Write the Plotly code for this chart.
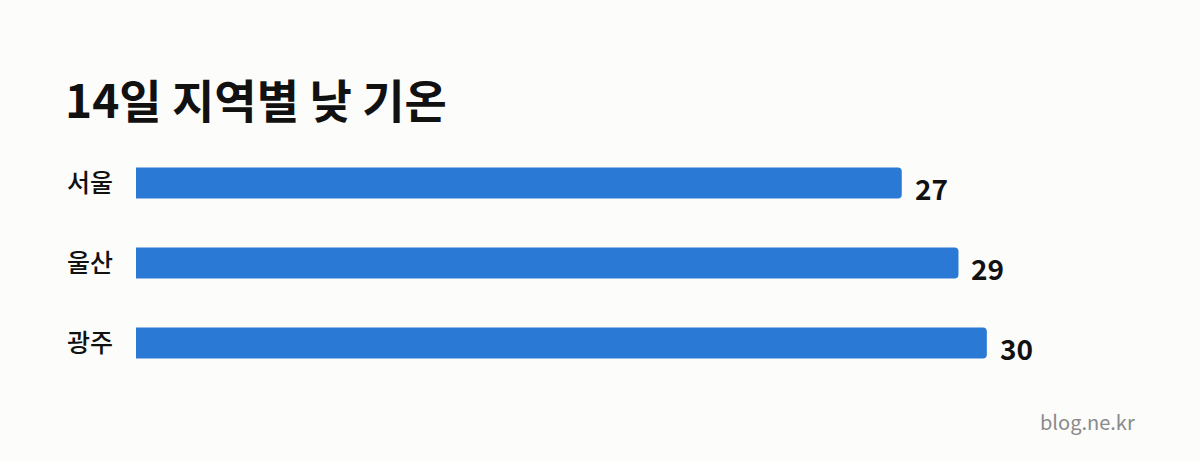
import plotly.graph_objects as go

# 지역별 낮 기온 (14일)
regions = ["서울", "울산", "광주"]
temps = [27, 29, 30]

title_text = "14일 지역별 낮 기온"
source_text = "blog.ne.kr"

bar_color = "#2979D5"
bg_color = "#FCFCFA"
font_family = "Noto Sans CJK KR"

fig = go.Figure(
    go.Bar(
        x=temps,
        y=regions,
        orientation="h",
        marker=dict(color=bar_color, line=dict(width=0)),
        hoverinfo="skip",
    )
)

# 막대 끝 값 라벨
for r, t in zip(regions, temps):
    fig.add_annotation(
        x=t, y=r, text=f"<b>{t}</b>", showarrow=False,
        xanchor="left", yanchor="middle", xshift=11, yshift=-5,
        font=dict(family=font_family, size=28, color="#111111"),
    )

fig.add_annotation(
    x=0.98, y=-0.16, xref="paper", yref="paper", text=source_text,
    showarrow=False, xanchor="right", yanchor="middle",
    font=dict(family=font_family, size=20, color="#8A8A8A"),
)

fig.update_layout(
    width=1200, height=462,
    margin=dict(l=136, r=43, t=143, b=79),
    paper_bgcolor=bg_color, plot_bgcolor=bg_color,
    bargap=0.61,
    barcornerradius=4,
    showlegend=False,
    title=dict(
        text=f"<b>{title_text}</b>",
        x=65 / 1200, xanchor="left", xref="container",
        y=1 - 102 / 462, yanchor="middle", yref="container",
        font=dict(family=font_family, size=46, color="#111111"),
    ),
    xaxis=dict(range=[0, 36], visible=False, fixedrange=True),
    yaxis=dict(
        categoryorder="array", categoryarray=regions, autorange="reversed",
        showgrid=False, zeroline=False, showline=False, ticks="",
        ticklabelstandoff=22,
        tickfont=dict(family=font_family, size=25, weight=500, color="#111111"),
        fixedrange=True,
    ),
    font=dict(family=font_family),
)

# 페이지 기본 여백 제거
fig.write_html(
    "out.html",
    config={"displayModeBar": False},
    post_script="document.body.style.margin='0';",
)
